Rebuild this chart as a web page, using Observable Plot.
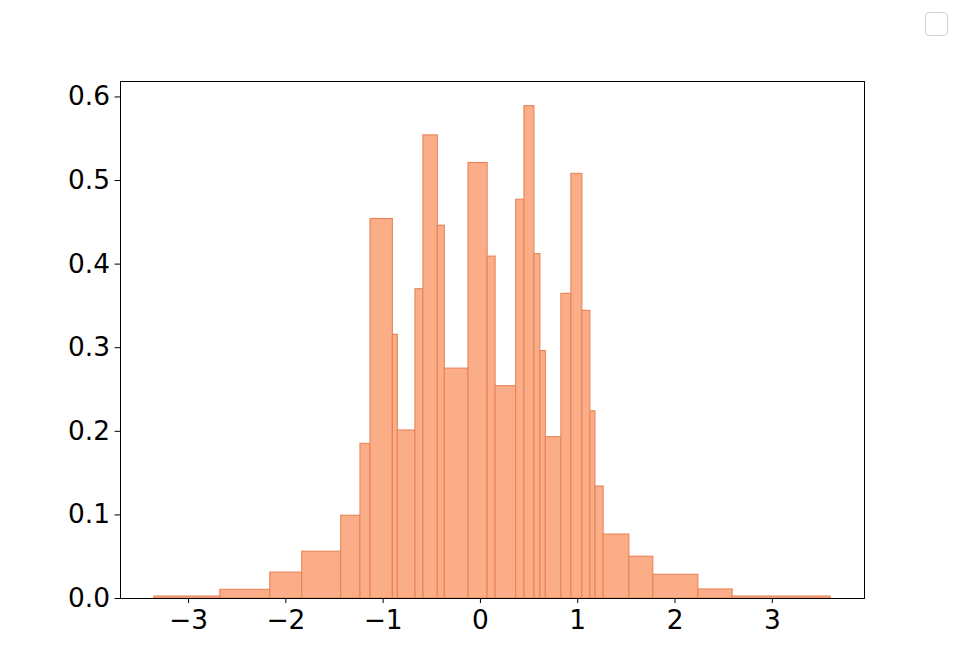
<!DOCTYPE html>
<html>
<head>
<meta charset="utf-8">
<script src="https://cdn.jsdelivr.net/npm/d3@7"></script>
<script src="https://cdn.jsdelivr.net/npm/@observablehq/plot@0.6"></script>
<style>
  html, body { margin: 0; padding: 0; background: #fff; }
  #wrap { position: relative; width: 960px; height: 672px; }
  #wrap svg text { font-size: 26.4px; font-family: "DejaVu Sans"; fill: black; }
  #legend { position: absolute; left: 925px; top: 12px; width: 21px; height: 22px;
            border: 1px solid #d0d0d0; border-radius: 4px; background: #fff; }
</style>
</head>
<body>
<div id="wrap"><div id="legend"></div></div>
<script>
const binEdges = [-3.352, -2.674, -2.160, -1.832, -1.431, -1.233, -1.130, -0.900, -0.849,
  -0.668, -0.586, -0.438, -0.366, -0.123, 0.074, 0.156, 0.367, 0.452, 0.555, 0.616, 0.672,
  0.832, 0.935, 1.048, 1.130, 1.182, 1.266, 1.531, 1.777, 2.240, 2.593, 3.600];
const densities = [0.0024, 0.0104, 0.031, 0.056, 0.099, 0.185, 0.454, 0.3155, 0.201, 0.370,
  0.554, 0.446, 0.275, 0.521, 0.409, 0.254, 0.477, 0.589, 0.412, 0.296, 0.193, 0.3645,
  0.508, 0.344, 0.224, 0.134, 0.0765, 0.050, 0.0283, 0.0108, 0.0024];
const xTicks = [-3, -2, -1, 0, 1, 2, 3];
const yTicks = [0, 0.1, 0.2, 0.3, 0.4, 0.5, 0.6];

const bins = densities.map((d, i) => ({x1: binEdges[i], x2: binEdges[i + 1], y: d}));
const lo = binEdges[0], hi = binEdges[binEdges.length - 1];
const pad = (hi - lo) * 0.05;
const yMax = d3.max(densities) * 1.05;

const fmtX = d => (d < 0 ? "\u2212" : "") + Math.abs(d);
const chart = Plot.plot({
  width: 960,
  height: 672,
  marginLeft: 120,
  marginRight: 96,
  marginTop: 81,
  marginBottom: 74,
  style: {fontFamily: "DejaVu Sans", fontSize: "26.4px", color: "black", background: "white"},
  x: {domain: [lo - pad, hi + pad]},
  y: {domain: [0, yMax]},
  marks: [
    Plot.rectY(bins, {x1: "x1", x2: "x2", y: "y", fill: "#fbad88", stroke: "#e8845a", strokeWidth: 1.1, inset: 0}),
    Plot.frame({stroke: "black", strokeWidth: 1}),
    Plot.axisX({ticks: xTicks, tickFormat: fmtX, tickSize: 5, tickPadding: 6.5, label: null, fontSize: 26.4}),
    Plot.axisY({ticks: yTicks, tickFormat: d3.format(".1f"), tickSize: 5.5, tickPadding: 5, label: null, fontSize: 26.4})
  ]
});
document.getElementById("wrap").prepend(chart);
chart.style.position = "absolute";
chart.style.left = "0";
chart.style.top = "0";
</script>
</body>
</html>
